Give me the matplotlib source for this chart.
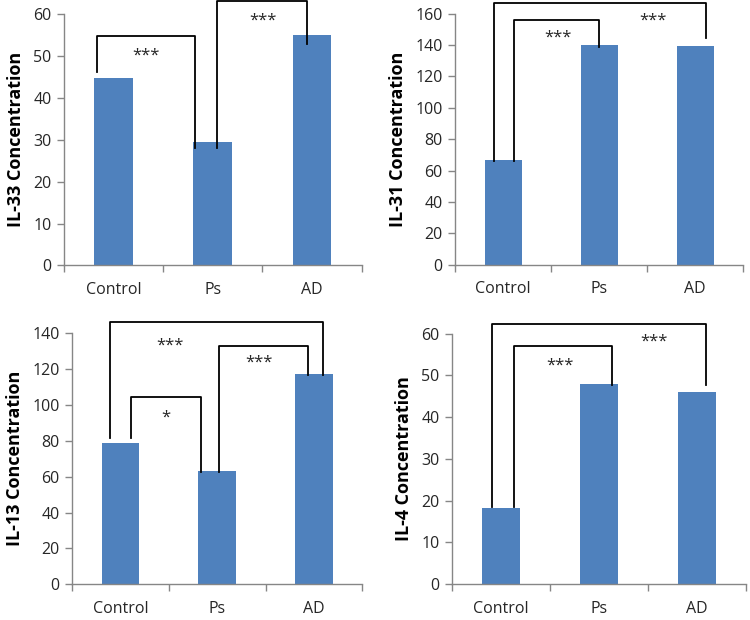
import matplotlib.pyplot as plt

# groups and concentrations
groups = ['Control', 'Ps', 'AD']
il33 = [44.8, 29.5, 55.0]
il31 = [67.0, 140.0, 139.4]
il13 = [79.0, 63.0, 117.0]
il4 = [18.3, 48.0, 46.0]

plt.rcParams['font.family'] = ['Open Sans', 'DejaVu Sans']
bar_col = '#4F81BD'
axis_col = '#868686'

fig = plt.figure(figsize=(7.5, 6.2), dpi=100)

# (x_left, x_right, top, left_leg_end, right_leg_end, star_x, star_y, label)
panels = [
    ([0.0853, 0.572, 0.397, 0.405], il33, 'IL-33 Concentration', 60, 10, [
        (-0.17, 0.82, 54.8, 46.2, 28.0, 0.33, 50.0, '***'),
        (1.04, 1.95, 63.2, 28.0, 53.0, 1.50, 58.5, '***'),
    ]),
    ([0.607, 0.573, 0.384, 0.405], il31, 'IL-31 Concentration', 160, 20, [
        (-0.10, 2.11, 167.0, 66.0, 144.5, 1.56, 155.5, '***'),
        (0.11, 1.00, 156.0, 66.0, 139.0, 0.57, 144.5, '***'),
    ]),
    ([0.096, 0.0576, 0.387, 0.405], il13, 'IL-13 Concentration', 140, 20, [
        (-0.11, 2.09, 146.0, 81.6, 116.7, 0.51, 133.0, '***'),
        (0.11, 0.83, 104.6, 81.6, 62.5, 0.47, 93.0, '*'),
        (1.02, 1.94, 132.9, 62.5, 116.7, 1.43, 123.5, '***'),
    ]),
    ([0.603, 0.058, 0.391, 0.404], il4, 'IL-4 Concentration', 60, 10, [
        (-0.09, 2.10, 62.4, 18.5, 47.6, 1.56, 58.0, '***'),
        (0.13, 1.13, 57.0, 18.5, 47.6, 0.60, 52.3, '***'),
    ]),
]

for rect, vals, ylab, ymax, step, brackets in panels:
    ax = fig.add_axes(rect)
    x = range(len(groups))
    ax.bar(x, vals, width=0.39, color=bar_col)
    ax.set_xlim(-0.5, 2.5)
    ax.set_ylim(0, ymax)
    ax.set_yticks(range(0, ymax + 1, step))
    ax.set_xticks(list(x))
    ax.set_xticklabels(groups, fontsize=11.5, color='#262626')
    ax.set_xticks([-0.5, 0.5, 1.5, 2.5], minor=True)
    ax.tick_params(axis='x', which='major', length=0, pad=12)
    ax.tick_params(axis='x', which='minor', length=5, color=axis_col, width=1)
    ax.tick_params(axis='y', length=5, color=axis_col, width=1, labelsize=11.5,
                   labelcolor='#262626', pad=4)
    for s in ['top', 'right']:
        ax.spines[s].set_visible(False)
    for s in ['left', 'bottom']:
        ax.spines[s].set_color(axis_col)
        ax.spines[s].set_linewidth(1)
    ax.set_ylabel(ylab, fontsize=13, fontweight='bold', labelpad=6)

    for x1, x2, top, l1, l2, sx, sy, lab in brackets:
        ax.plot([x1, x1, x2, x2], [l1, top, top, l2], color='black', lw=1.3,
                clip_on=False, zorder=3)
        ax.text(sx, sy, lab, ha='center', va='center', fontsize=12, color='#262626')

fig.savefig('out.png', dpi=100)
